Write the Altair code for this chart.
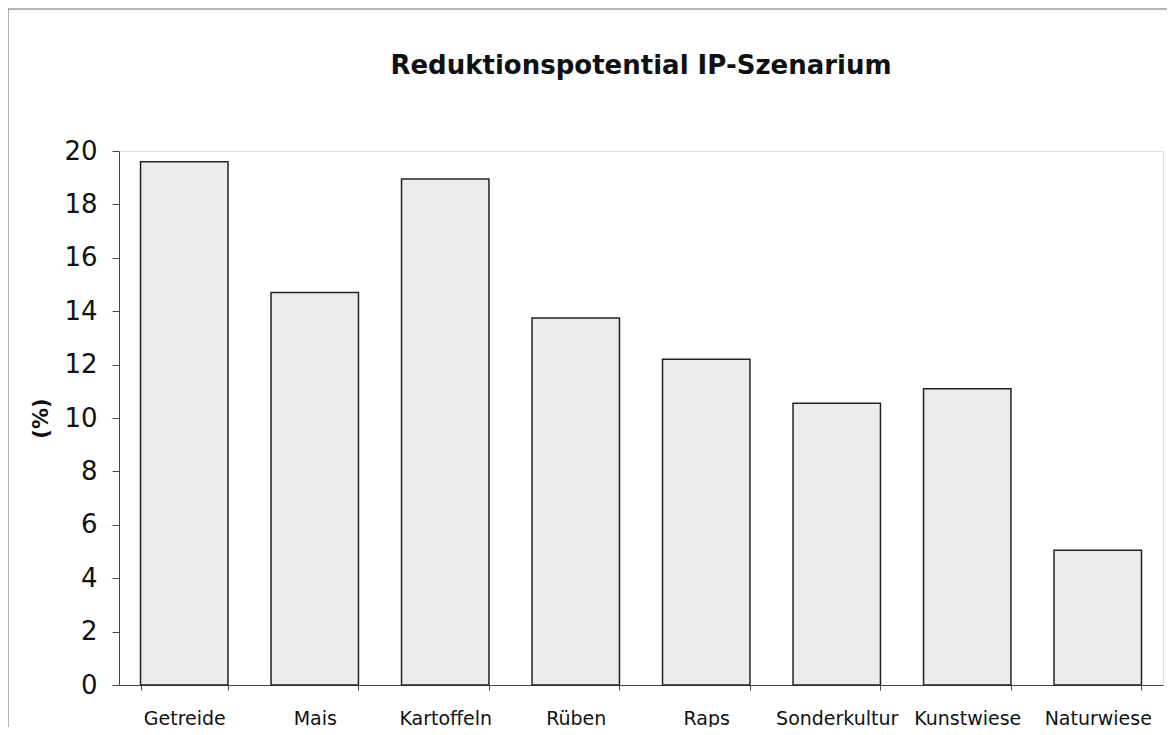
import altair as alt
import pandas as pd

categories = ["Getreide", "Mais", "Kartoffeln", "Rüben", "Raps",
              "Sonderkultur", "Kunstwiese", "Naturwiese"]
values = [19.6, 14.7, 18.95, 13.75, 12.2, 10.55, 11.1, 5.05]
y_ticks = [0, 2, 4, 6, 8, 10, 12, 14, 16, 18, 20]
title_text = "Reduktionspotential IP-Szenarium"
y_title = "(%)"

df = pd.DataFrame({"kultur": categories, "wert": values})

W, H = 1044, 534
PAD_L, PAD_T, PAD_R, PAD_B = 111, 143, 4, 42

bars = alt.Chart(df).mark_bar(
    fill="#ececec", stroke="#222222", strokeWidth=1.5
).encode(
    x=alt.X("kultur:N", sort=categories, title=None,
            scale=alt.Scale(paddingInner=0.33, paddingOuter=0.165),
            axis=alt.Axis(labelAngle=0, labelFont="DejaVu Sans", labelFontSize=19,
                          labelColor="#111", labelPadding=19, tickBand="extent",
                          tickSize=5, tickColor="#444", domainColor="#444",
                          labelFontWeight="normal")),
    y=alt.Y("wert:Q", title=y_title,
            scale=alt.Scale(domain=[0, 20], nice=False),
            axis=alt.Axis(values=y_ticks, grid=False, labelFont="DejaVu Sans",
                          labelFontSize=26, labelColor="#111", labelPadding=15,
                          tickSize=7, tickColor="#444", domainColor="#444",
                          titleFont="DejaVu Sans", titleFontSize=21,
                          titleFontWeight="bold", titleColor="#111",
                          titleX=-68, titleAngle=-90)),
)

frame_data = alt.Data(values=[{"a": 1}])
frame_left = alt.Chart(frame_data).mark_rule(color="#666", strokeWidth=1).encode(
    x=alt.value(-PAD_L), y=alt.value(-PAD_T + 1), y2=alt.value(H + PAD_B + 20)
)
frame_top = alt.Chart(frame_data).mark_rule(color="#666", strokeWidth=1).encode(
    x=alt.value(-PAD_L), x2=alt.value(W + PAD_R + 20), y=alt.value(-PAD_T + 1)
)

chart = alt.layer(bars, frame_left, frame_top).properties(
    width=W, height=H,
    title=alt.TitleParams(title_text, font="DejaVu Sans", fontSize=26,
                          fontWeight="bold", anchor="middle", color="#111",
                          offset=0, dy=70),
    autosize=alt.AutoSizeParams(type="none"),
    padding={"left": PAD_L, "top": PAD_T, "right": PAD_R, "bottom": PAD_B},
).configure_view(stroke="#555", strokeWidth=1).configure(background="white")

chart.save("out.html", embed_options={"renderer": "svg", "actions": False})
